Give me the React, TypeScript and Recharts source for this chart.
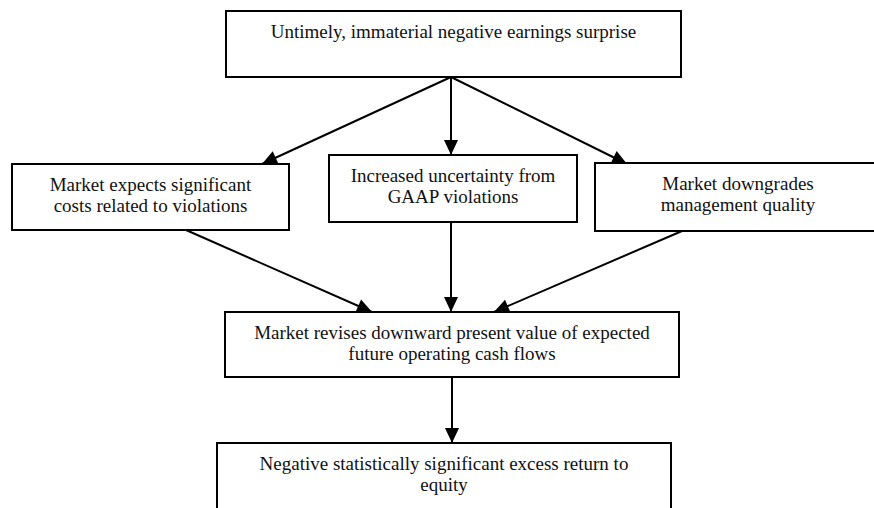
import { FC } from "react";
import { ScatterChart, Scatter, XAxis, YAxis } from "recharts";

const CHART_W = 874;
const CHART_H = 508;

// boxes of the flow diagram (data units = page pixels)
const nodeText = [
  ["Untimely, immaterial negative earnings surprise"],
  ["Market expects significant", "costs related to violations"],
  ["Increased uncertainty from", "GAAP violations"],
  ["Market downgrades", "management quality"],
  ["Market revises downward present value of expected", "future operating cash flows"],
  ["Negative statistically significant excess return to", "equity"],
];
const nodeX = [453.5, 150.5, 453, 738, 452, 444];
const nodeY = [44, 197, 188.5, 197, 344.5, 476];
const nodeW = [455, 277, 248, 286, 454, 454];
const nodeH = [66, 66, 67, 68, 65, 66];

// arrows: start and tip
const edgeFrom = [
  [451, 77],
  [451, 77],
  [451, 77],
  [186, 230],
  [451, 222],
  [682, 231],
  [452, 377],
];
const edgeTo = [
  [262, 164],
  [451, 155],
  [627, 164],
  [372, 312],
  [451, 312],
  [494, 312],
  [452, 443],
];

const nodes = nodeText.map((lines, i) => ({
  x: nodeX[i],
  y: nodeY[i],
  w: nodeW[i],
  h: nodeH[i],
  lines,
}));

const edges = edgeFrom.map((f, i) => [
  { x: f[0], y: f[1], head: false },
  { x: edgeTo[i][0], y: edgeTo[i][1], head: true, fx: f[0], fy: f[1] },
]);

const KX = CHART_W / CHART_W;
const KY = CHART_H / CHART_H;

const FONT = '"Liberation Serif", "Times New Roman", serif';

const BoxShape = (props: any) => {
  const { cx, cy, payload } = props;
  const w = payload.w * KX;
  const h = payload.h * KY;
  const top = cy - h / 2;
  return (
    <g>
      <rect
        x={cx - w / 2}
        y={top}
        width={w}
        height={h}
        fill="#fff"
        stroke="#000"
        strokeWidth={2}
      />
      <text
        x={cx}
        y={top + 27}
        textAnchor="middle"
        style={{ fontFamily: FONT, fontSize: 19 }}
        fill="#111"
      >
        {payload.lines.map((l: string, i: number) => (
          <tspan key={i} x={cx} dy={i === 0 ? 0 : 21}>
            {l}
          </tspan>
        ))}
      </text>
    </g>
  );
};

const ArrowHead = (props: any) => {
  const { cx, cy, payload } = props;
  if (!payload.head) return <g />;
  const a = Math.atan2(payload.y - payload.fy, payload.x - payload.fx);
  const len = 15;
  const half = 7;
  const bx = cx - len * Math.cos(a);
  const by = cy - len * Math.sin(a);
  const px = -Math.sin(a) * half;
  const py = Math.cos(a) * half;
  return (
    <polygon
      points={`${cx},${cy} ${bx + px},${by + py} ${bx - px},${by - py}`}
      fill="#000"
    />
  );
};

const App: FC = () => {
  return (
    <div style={{ position: "absolute", left: 0, top: 0, background: "#fff" }}>
      <ScatterChart
        width={CHART_W}
        height={CHART_H}
        margin={{ top: 0, right: 0, bottom: 0, left: 0 }}
      >
        <XAxis type="number" dataKey="x" domain={[0, CHART_W]} hide />
        <YAxis type="number" dataKey="y" domain={[0, CHART_H]} reversed hide />
        {edges.map((e, i) => (
          <Scatter
            key={`edge-${i}`}
            data={e}
            line={{ stroke: "#000", strokeWidth: 2 }}
            shape={ArrowHead}
            isAnimationActive={false}
          />
        ))}
        <Scatter data={nodes} shape={BoxShape} isAnimationActive={false} />
      </ScatterChart>
    </div>
  );
};

export default App;
